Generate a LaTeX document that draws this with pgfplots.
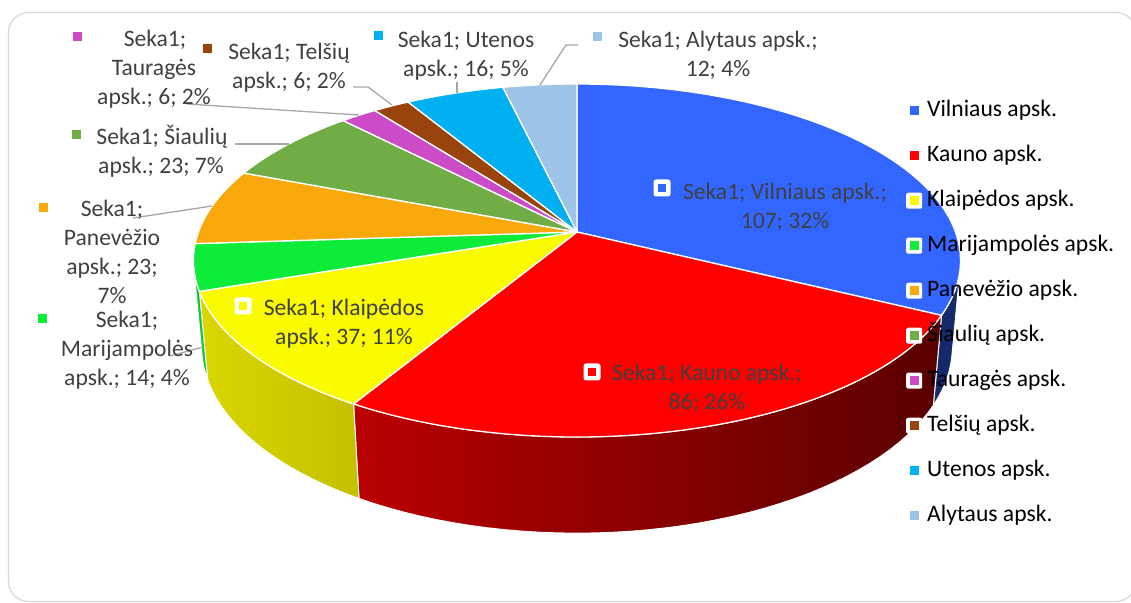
\documentclass[border=0pt]{standalone}
\usepackage{fontspec}
\setmainfont{Carlito}
\usepackage{pgfplots}
\pgfplotsset{compat=1.18}
\definecolor{cVil}{RGB}{51,102,255}
\definecolor{cKau}{RGB}{255,0,0}
\definecolor{cKla}{RGB}{250,250,0}
\definecolor{cMar}{RGB}{14,236,58}
\definecolor{cPan}{RGB}{249,168,12}
\definecolor{cSia}{RGB}{112,173,71}
\definecolor{cTau}{RGB}{204,76,200}
\definecolor{cTel}{RGB}{153,68,13}
\definecolor{cUte}{RGB}{0,176,240}
\definecolor{cAly}{RGB}{157,195,230}
\definecolor{lblgray}{RGB}{64,64,64}
\definecolor{leadgray}{RGB}{166,166,166}
\definecolor{bordergray}{RGB}{217,217,217}
\newcommand\lblfont{\fontsize{23.6bp}{28.8bp}\selectfont}
% data: Seka1
\def\vA{107}% Vilniaus
\def\vB{86}% Kauno
\def\vC{37}% Klaipedos
\def\vD{14}% Marijampoles
\def\vE{23}% Panevezio
\def\vF{23}% Siauliu
\def\vG{6}% Taurages
\def\vH{6}% Telsiu
\def\vI{16}% Utenos
\def\vJ{12}% Alytaus
\newcommand\slice[3]{\addplot[forget plot, fill=#3, draw=white, line width=1.3bp, line join=round, domain=#1:#2, samples=60] ({px(x,0)},{py(x,0)}) -- (axis cs:577,-232) -- cycle;}
\newcommand\sidewall[3]{\addplot[forget plot, draw=white, line width=1bp, line join=round, #3, domain=0:2.05, samples=83] ({sidex(x,#1,#2)},{sidey(x,#1,#2)}) -- cycle;}
\newcommand\lbl[3]{\node[anchor=base, text=lblgray, font=\lblfont, inner sep=0pt] at (axis cs:#1,#2) {#3};}
\newcommand\mk[3]{\node[fill=#3, minimum size=9bp, inner sep=0pt] at (axis cs:#1,#2) {};}
\newcommand\mkin[3]{\node[fill=white, rounded corners=2.5bp, minimum size=17bp, inner sep=0pt] at (axis cs:#1,#2) {};\node[fill=#3, minimum size=8.5bp, inner sep=0pt] at (axis cs:#1,#2) {};}
\begin{document}
\begin{tikzpicture}
\pgfmathsetmacro\tot{\vA+\vB+\vC+\vD+\vE+\vF+\vG+\vH+\vI+\vJ}
\pgfmathsetmacro\unit{360/\tot}
\pgfmathsetmacro\bA{\unit*\vA}
\pgfmathsetmacro\bB{\bA+\unit*\vB}
\pgfmathsetmacro\bC{\bB+\unit*\vC}
\pgfmathsetmacro\bD{\bC+\unit*\vD}
\pgfmathsetmacro\bE{\bD+\unit*\vE}
\pgfmathsetmacro\bF{\bE+\unit*\vF}
\pgfmathsetmacro\bG{\bF+\unit*\vG}
\pgfmathsetmacro\bH{\bG+\unit*\vH}
\pgfmathsetmacro\bI{\bH+\unit*\vI}
\def\bJ{360}
\begin{axis}[width=1131bp, height=603bp, scale only axis,
  xmin=0, xmax=1131, ymin=-603, ymax=0, hide axis, clip=false,
  declare function={
    pd(\t,\z)=5.516+0.8909*cos(\t)+0.1172*\z;
    px(\t,\z)=577+2087.8*sin(\t)/pd(\t,\z);
    py(\t,\z)=-232+2087.8*(0.4542*cos(\t)-0.2299*\z)/pd(\t,\z);
    sidex(\s,\a,\b)=(\s<1.0125) ? px(\a+(\b-\a)*min(\s,1),0) : px(\b-(\b-\a)*max(\s-1.05,0),1);
    sidey(\s,\a,\b)=(\s<1.0125) ? py(\a+(\b-\a)*min(\s,1),0) : py(\b-(\b-\a)*max(\s-1.05,0),1);
  },
  legend image code/.code={\path[fill=white,draw=none,rounded corners=2bp] (-8bp,-8bp) rectangle (8bp,8bp); \path[#1,draw=none] (-4.5bp,-4.5bp) rectangle (4.5bp,4.5bp); \path[draw=none] (13bp,0bp);},
  legend cell align=left,
  legend style={at={(axis cs:906,-100)}, anchor=north west, draw=none, fill=none, inner sep=0pt, font=\lblfont, text=black, row sep=24bp, nodes={inner sep=0pt, text height=16bp, text depth=5bp}},
]
\draw[bordergray, line width=1.3bp, rounded corners=20bp] (axis cs:8.5,-12.5) rectangle (axis cs:1136,-601.5);
% side walls (visible part: 101.7 to 258.3 deg)
\sidewall{101.7}{\bA}{fill={rgb,255:red,21;green,41;blue,107}}
\sidewall{\bA}{\bB}{left color={rgb,255:red,186;green,0;blue,0}, middle color={rgb,255:red,122;green,0;blue,0}, right color={rgb,255:red,90;green,0;blue,0}}
\sidewall{\bB}{\bC}{left color={rgb,255:red,218;green,214;blue,0}, right color={rgb,255:red,196;green,192;blue,0}}
\sidewall{\bC}{258.3}{fill={rgb,255:red,12;green,200;blue,50}}
% top faces
\slice{0}{\bA}{cVil}
\slice{\bA}{\bB}{cKau}
\slice{\bB}{\bC}{cKla}
\slice{\bC}{\bD}{cMar}
\slice{\bD}{\bE}{cPan}
\slice{\bE}{\bF}{cSia}
\slice{\bF}{\bG}{cTau}
\slice{\bG}{\bH}{cTel}
\slice{\bH}{\bI}{cUte}
\slice{\bI}{\bJ}{cAly}
% leader lines
\draw[leadgray, line width=1.3bp] (axis cs:187,-104) -- (axis cs:359,-115);
\draw[leadgray, line width=1.3bp] (axis cs:353,-87) -- (axis cs:368,-87) -- (axis cs:392,-105);
\draw[leadgray, line width=1.3bp] (axis cs:457,-82) -- (axis cs:457,-93);
\draw[leadgray, line width=1.3bp] (axis cs:578,-45) -- (axis cs:566,-45) -- (axis cs:540,-85);
\draw[leadgray, line width=1.3bp] (axis cs:235,-144) -- (axis cs:289,-144);
\draw[leadgray, line width=1.3bp] (axis cs:133,-218) -- (axis cs:212,-206);
\draw[leadgray, line width=1.3bp] (axis cs:170,-356) -- (axis cs:203,-347);
% outside labels
\mk{77}{-37}{cTau}
\lbl{155}{-47}{Seka1;}\lbl{154}{-76}{Tauragės}\lbl{154}{-105}{apsk.; 6; 2\%}
\mk{207}{-49}{cTel}
\lbl{289}{-60}{Seka1; Telšių}\lbl{289}{-89}{apsk.; 6; 2\%}
\mk{378}{-36}{cUte}
\lbl{466}{-48}{Seka1; Utenos}\lbl{466}{-77}{apsk.; 16; 5\%}
\mk{597}{-37}{cAly}
\lbl{718}{-48}{Seka1; Alytaus apsk.;}\lbl{718}{-77}{12; 4\%}
\mk{76}{-135}{cSia}
\lbl{162}{-145}{Seka1; Šiaulių}\lbl{161}{-174}{apsk.; 23; 7\%}
\mk{43}{-208}{cPan}
\lbl{112}{-217}{Seka1;}\lbl{112}{-246}{Panevėžio}\lbl{112}{-275}{apsk.; 23;}\lbl{112}{-304}{7\%}
\mk{42}{-319}{cMar}
\lbl{127}{-328}{Seka1;}\lbl{127}{-357}{Marijampolės}\lbl{127}{-386}{apsk.; 14; 4\%}
% inside labels
\mkin{662}{-188}{cVil}
\lbl{785}{-200}{Seka1; Vilniaus apsk.;}\lbl{785}{-229}{107; 32\%}
\mkin{243}{-306}{cKla}
\lbl{344}{-316}{Seka1; Klaipėdos}\lbl{344}{-345}{apsk.; 37; 11\%}
\mkin{592}{-372}{cKau}
\lbl{707}{-381}{Seka1; Kauno apsk.;}\lbl{707}{-410}{86; 26\%}
% legend
\addlegendimage{fill=cVil}\addlegendentry{Vilniaus apsk.}
\addlegendimage{fill=cKau}\addlegendentry{Kauno apsk.}
\addlegendimage{fill=cKla}\addlegendentry{Klaipėdos apsk.}
\addlegendimage{fill=cMar}\addlegendentry{Marijampolės apsk.}
\addlegendimage{fill=cPan}\addlegendentry{Panevėžio apsk.}
\addlegendimage{fill=cSia}\addlegendentry{Šiaulių apsk.}
\addlegendimage{fill=cTau}\addlegendentry{Tauragės apsk.}
\addlegendimage{fill=cTel}\addlegendentry{Telšių apsk.}
\addlegendimage{fill=cUte}\addlegendentry{Utenos apsk.}
\addlegendimage{fill=cAly}\addlegendentry{Alytaus apsk.}
\end{axis}
\pgfresetboundingbox
\path (current axis.south west) rectangle (current axis.north east);
\end{tikzpicture}
\end{document}
